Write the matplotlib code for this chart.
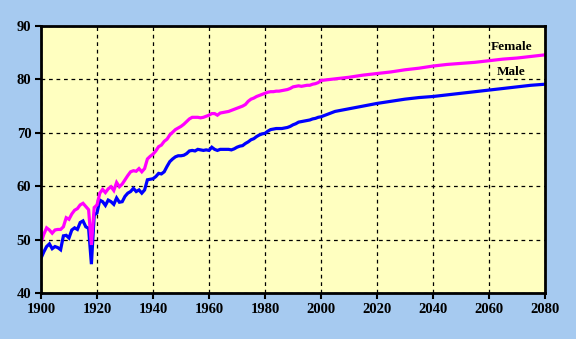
import numpy as np
import matplotlib.pyplot as plt

# years: annual to 2000, then projection points every 5 years
years = list(range(1900, 2001)) + list(range(2005, 2081, 5))

female = [
    49.4, 51.0, 52.2, 51.8, 51.2, 51.8, 51.9, 51.9, 52.4, 54.1,  # 1900s
    53.8, 54.8, 55.5, 55.8, 56.5, 56.8, 56.2, 55.6, 49.0, 56.0,  # 1910s
    56.5, 58.7, 59.4, 58.8, 59.5, 59.9, 59.2, 60.7, 59.9, 60.4,  # 1920s
    61.2, 62.0, 62.7, 62.9, 62.8, 63.3, 62.7, 63.3, 65.1, 65.6,  # 1930s
    66.0, 66.6, 67.4, 67.7, 68.4, 68.8, 69.6, 70.1, 70.6, 70.9,  # 1940s
    71.2, 71.6, 72.1, 72.6, 72.9, 72.9, 72.9, 72.8, 72.9, 73.1,  # 1950s
    73.3, 73.6, 73.6, 73.3, 73.7, 73.8, 73.9, 74.0, 74.2, 74.4,  # 1960s
    74.6, 74.8, 75.0, 75.3, 75.9, 76.3, 76.5, 76.8, 77.0, 77.2,  # 1970s
    77.4, 77.6, 77.7, 77.7, 77.8, 77.8, 77.9, 78.0, 78.1, 78.3,  # 1980s
    78.6, 78.7, 78.8, 78.7, 78.8, 78.9, 78.9, 79.1, 79.2, 79.4,  # 1990s
    79.8,                                                        # 2000
    80.1, 80.4, 80.8, 81.1, 81.4, 81.8, 82.1, 82.5,
    82.8, 83.0, 83.2, 83.5, 83.8, 84.0, 84.3, 84.6,
]

male = [
    46.5, 47.7, 48.7, 49.2, 48.3, 48.7, 48.5, 48.1, 50.7, 50.8,  # 1900s
    50.3, 51.8, 52.2, 51.9, 53.2, 53.5, 52.4, 52.1, 45.4, 54.6,  # 1910s
    55.0, 57.4, 57.1, 56.4, 57.4, 57.1, 56.6, 57.8, 57.0, 57.1,  # 1920s
    58.1, 58.7, 59.0, 59.6, 59.0, 59.3, 58.7, 59.3, 61.2, 61.3,  # 1930s
    61.4, 61.8, 62.4, 62.3, 62.7, 63.7, 64.6, 65.1, 65.5, 65.7,  # 1940s
    65.7, 65.8, 66.1, 66.6, 66.7, 66.6, 66.9, 66.8, 66.7, 66.8,  # 1950s
    66.7, 67.3, 66.9, 66.7, 66.9, 66.9, 66.9, 66.9, 66.8, 67.0,  # 1960s
    67.3, 67.5, 67.6, 68.0, 68.3, 68.7, 68.9, 69.3, 69.6, 69.8,  # 1970s
    69.9, 70.3, 70.6, 70.7, 70.8, 70.8, 70.8, 70.9, 71.0, 71.2,  # 1980s
    71.5, 71.7, 72.0, 72.1, 72.2, 72.3, 72.4, 72.6, 72.7, 72.9,  # 1990s
    73.0,                                                        # 2000
    74.0, 74.5, 75.0, 75.5, 75.9, 76.3, 76.6, 76.8,
    77.1, 77.4, 77.7, 78.0, 78.3, 78.6, 78.9, 79.1,
]

fig = plt.figure(figsize=(5.76, 3.39), dpi=100, facecolor='#A6CAF0')
ax = fig.add_axes([41/576, 46/339, 504/576, 267/339], facecolor='#FFFFC0')

# male first so the female line sits on top (visible in the 1918 dip)
ax.plot(years, male, color='#0000FF', lw=2.3, solid_joinstyle='miter', zorder=3)
ax.plot(years, female, color='#FF00FF', lw=2.3, solid_joinstyle='miter', zorder=3)

ax.set_xlim(1900, 2080)
ax.set_ylim(40, 90)
ax.set_xticks(range(1900, 2081, 20))
ax.set_yticks(range(40, 91, 10))

ax.grid(True, color='black', linestyle=(0, (3, 3)), linewidth=0.9)
ax.set_axisbelow(True)

for s in ax.spines.values():
    s.set_linewidth(2)
    s.set_zorder(4)

ax.tick_params(direction='out', length=4, width=1.5, colors='black', pad=3)
for lab in ax.get_xticklabels() + ax.get_yticklabels():
    lab.set_fontfamily('Liberation Serif')
    lab.set_fontweight('bold')
    lab.set_fontsize(10.5)

ax.text(2068, 86.1, 'Female', ha='center', va='center', fontfamily='Liberation Serif',
        fontweight='bold', fontsize=9.5)
ax.text(2068, 81.3, 'Male', ha='center', va='center', fontfamily='Liberation Serif',
        fontweight='bold', fontsize=9.5)

fig.savefig('out.png', dpi=100, facecolor=fig.get_facecolor())
